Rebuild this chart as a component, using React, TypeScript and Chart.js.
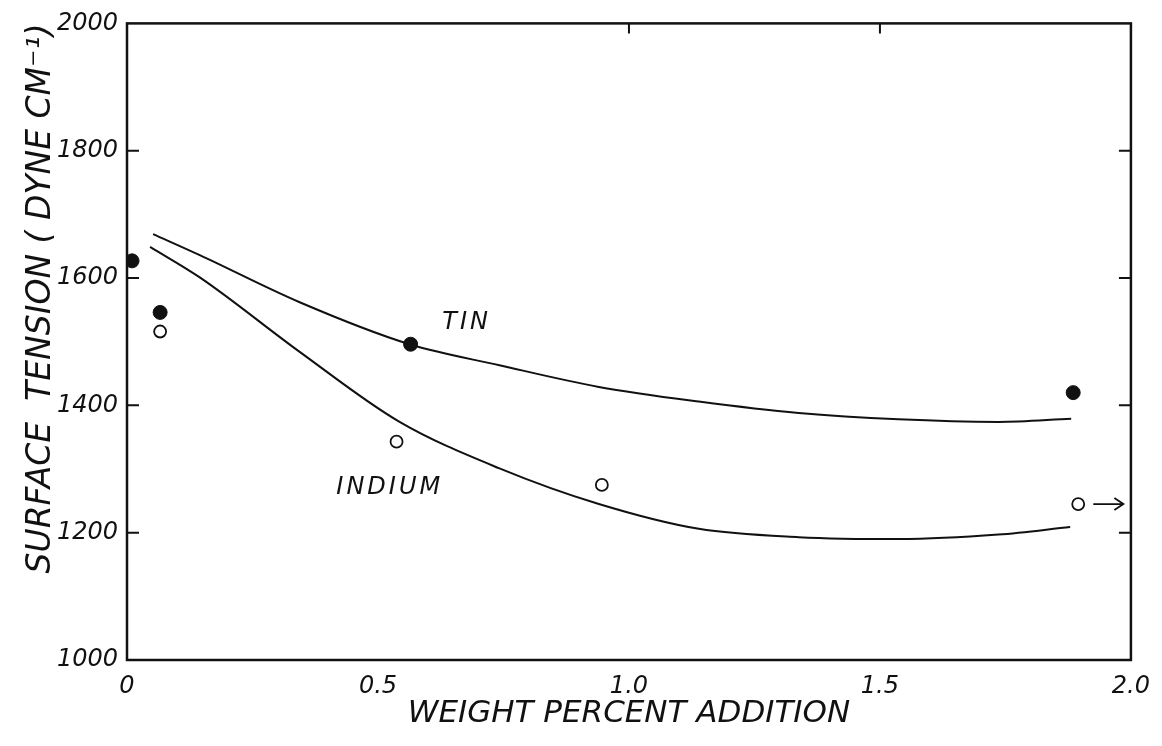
import React, { useEffect, useRef } from 'react';
import { Chart, registerables } from 'chart.js';

Chart.register(...registerables);

// Axis ticks
const xTickValues = [0, 0.5, 1.0, 1.5, 2.0];
const xTickLabels = ['0', '0.5', '1.0', '1.5', '2.0'];
const yTickValues = [1000, 1200, 1400, 1600, 1800, 2000];
const yTickLabels = ['1000', '1200', '1400', '1600', '1800', '2000'];
const yInnerTicks = [1200, 1400, 1600, 1800];
const xTopTicks = [1.0, 1.5];

// Measured points
const tinX = [0.01, 0.066, 0.565, 1.885];
const tinY = [1627, 1546, 1496, 1420];
const indiumX = [0.066, 0.537, 0.946, 1.895];
const indiumY = [1516, 1343, 1275, 1245];

// Hand-drawn fitted curves
const tinCurveX = [0.052, 0.145, 0.344, 0.563, 0.742, 0.94, 1.139, 1.338, 1.537, 1.736, 1.881];
const tinCurveY = [1669, 1636, 1562, 1496, 1463, 1429, 1406, 1388, 1378, 1374, 1379];
const indiumCurveX = [0.046, 0.145, 0.344, 0.543, 0.742, 0.94, 1.139, 1.338, 1.537, 1.736, 1.879];
const indiumCurveY = [1649, 1601, 1484, 1374, 1301, 1245, 1206, 1193, 1190, 1197, 1209];

// Curve labels and the arrow
const curveLabels = ['TIN', 'INDIUM'];
const curveLabelX = [0.628, 0.417];
const curveLabelY = [1530, 1270];
const arrowX = [1.925, 1.985];
const arrowY = 1245;

const xTitle = 'WEIGHT PERCENT ADDITION';
const yTitle = 'SURFACE  TENSION ( DYNE CM⁻¹)';

const FONT = '"DejaVu Sans", "Liberation Sans", sans-serif';
const INK = '#111';

const zip = (xs: number[], ys: number[]) => xs.map((x, i) => ({ x, y: ys[i] }));

const decor = {
  id: 'decor',
  beforeDraw(chart: any) {
    const { ctx, width, height } = chart;
    ctx.save();
    ctx.fillStyle = '#fff';
    ctx.fillRect(0, 0, width, height);
    ctx.restore();
  },
  afterDatasetsDraw(chart: any) {
    const { ctx, chartArea: a, scales } = chart;
    const x = scales.x;
    const y = scales.y;
    ctx.save();
    ctx.strokeStyle = INK;
    ctx.lineWidth = 2.5;
    ctx.strokeRect(a.left, a.top, a.right - a.left, a.bottom - a.top);

    ctx.lineWidth = 2;
    ctx.beginPath();
    for (const v of yInnerTicks) {
      const py = y.getPixelForValue(v);
      ctx.moveTo(a.left, py);
      ctx.lineTo(a.left + 12, py);
      ctx.moveTo(a.right - 12, py);
      ctx.lineTo(a.right, py);
    }
    for (const v of xTopTicks) {
      const px = x.getPixelForValue(v);
      ctx.moveTo(px, a.top);
      ctx.lineTo(px, a.top + 10);
    }
    ctx.stroke();

    ctx.fillStyle = INK;
    ctx.font = `italic 24px ${FONT}`;
    (ctx as any).letterSpacing = '3px';
    ctx.textAlign = 'left';
    ctx.textBaseline = 'middle';
    curveLabels.forEach((t, i) => {
      ctx.fillText(t, x.getPixelForValue(curveLabelX[i]), y.getPixelForValue(curveLabelY[i]));
    });
    (ctx as any).letterSpacing = '0px';

    const x0 = x.getPixelForValue(arrowX[0]);
    const x1 = x.getPixelForValue(arrowX[1]);
    const py = y.getPixelForValue(arrowY);
    ctx.lineWidth = 1.8;
    ctx.beginPath();
    ctx.moveTo(x0, py);
    ctx.lineTo(x1, py);
    ctx.moveTo(x1 - 9, py - 6);
    ctx.lineTo(x1, py);
    ctx.lineTo(x1 - 9, py + 6);
    ctx.stroke();
    ctx.restore();
  },
};

export default function App() {
  const ref = useRef<HTMLCanvasElement | null>(null);

  useEffect(() => {
    if (!ref.current) return;
    const chart = new Chart(ref.current, {
      type: 'scatter',
      data: {
        datasets: [
          {
            label: 'Tin data',
            data: zip(tinX, tinY),
            pointRadius: 7,
            pointBackgroundColor: INK,
            pointBorderColor: INK,
            pointBorderWidth: 1,
            showLine: false,
          },
          {
            label: 'Indium data',
            data: zip(indiumX, indiumY),
            pointRadius: 6,
            pointBackgroundColor: '#fff',
            pointBorderColor: INK,
            pointBorderWidth: 1.8,
            showLine: false,
          },
          {
            label: 'Tin',
            data: zip(tinCurveX, tinCurveY),
            showLine: true,
            pointRadius: 0,
            borderColor: INK,
            borderWidth: 2,
            cubicInterpolationMode: 'monotone',
          },
          {
            label: 'Indium',
            data: zip(indiumCurveX, indiumCurveY),
            showLine: true,
            pointRadius: 0,
            borderColor: INK,
            borderWidth: 2,
            cubicInterpolationMode: 'monotone',
          },
        ],
      } as any,
      options: {
        animation: false,
        responsive: false,
        events: [],
        layout: { padding: { left: 22, top: 20, right: 29, bottom: 13 } },
        plugins: {
          legend: { display: false },
          tooltip: { enabled: false },
        },
        scales: {
          x: {
            type: 'linear',
            min: 0,
            max: 2,
            grid: { display: false, drawTicks: false },
            border: { display: false },
            afterBuildTicks: (s: any) => {
              s.ticks = xTickValues.map((value) => ({ value }));
            },
            afterFit: (s: any) => {
              s.height = 73;
            },
            ticks: {
              padding: 12,
              color: INK,
              maxRotation: 0,
              font: { family: FONT, size: 24, style: 'italic' },
              callback: (_v: any, i: number) => xTickLabels[i],
            },
            title: {
              display: true,
              text: xTitle,
              color: INK,
              padding: 0,
              font: { family: FONT, size: 31, style: 'italic' },
            },
          },
          y: {
            type: 'linear',
            min: 1000,
            max: 2000,
            grid: { display: false, drawTicks: false },
            border: { display: false },
            afterBuildTicks: (s: any) => {
              s.ticks = yTickValues.map((value) => ({ value }));
            },
            afterFit: (s: any) => {
              s.width = 105;
            },
            ticks: {
              padding: 9,
              color: INK,
              font: { family: FONT, size: 24, style: 'italic' },
              callback: (_v: any, i: number) => yTickLabels[i],
            },
            title: {
              display: true,
              text: yTitle,
              color: INK,
              align: 'end',
              padding: 0,
              font: { family: FONT, size: 33, style: 'italic' },
            },
          },
        },
      } as any,
      plugins: [decor],
    });
    return () => chart.destroy();
  }, []);

  return (
    <div style={{ position: 'fixed', left: 0, top: 0, width: 1162, height: 746, background: '#fff' }}>
      <canvas ref={ref} width={1162} height={746} style={{ display: 'block' }} />
    </div>
  );
}
